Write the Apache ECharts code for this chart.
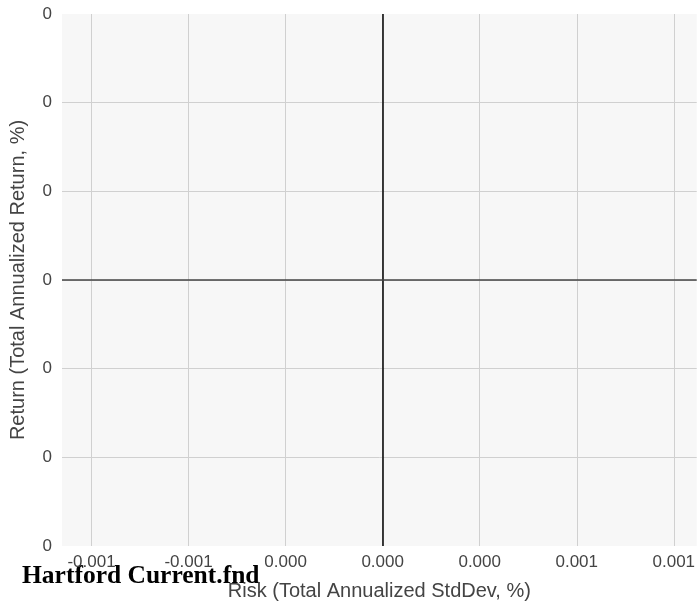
<!DOCTYPE html>
<html>
<head>
<meta charset="utf-8">
<script src="https://cdn.jsdelivr.net/npm/echarts@6/dist/echarts.min.js"></script>
<style>html,body{margin:0;padding:0;background:#fff}#c{width:698px;height:610px}</style>
</head>
<body>
<div id="c"></div>
<script>
// Axis ticks (abstract tick units; one unit between adjacent gridlines)
var xTickValues = [-3, -2, -1, 0, 1, 2, 3];
var xTickLabels = ['-0.001', '-0.001', '0.000', '0.000', '0.000', '0.001', '0.001'];
var yTickValues = [-3, -2, -1, 0, 1, 2, 3];
var yTickLabels = ['0', '0', '0', '0', '0', '0', '0'];
var xRange = [-3.304, 3.236];
var yRange = [-3, 3];
var fundName = 'Hartford Current.fnd';
var fundPoints = [];  // no visible points in the reference

function labelFor(values, labels, v) {
  for (var i = 0; i < values.length; i++) {
    if (Math.abs(values[i] - v) < 1e-6) return labels[i];
  }
  return '';
}

var chart = echarts.init(document.getElementById('c'), null, {renderer: 'canvas'});
chart.setOption({
  animation: false,
  backgroundColor: '#ffffff',
  grid: {left: 60, right: 0, top: 14, bottom: 64, show: true, backgroundColor: '#f7f7f7', borderWidth: 0},
  graphic: [{
    type: 'text', left: 22, top: 563,
    style: {text: fundName, font: 'bold 25.5px "Liberation Serif", "Times New Roman", serif', fill: '#000'}
  }],
  xAxis: {
    type: 'value', min: xRange[0], max: xRange[1], splitNumber: 6,
    name: 'Risk (Total Annualized StdDev, %)', nameLocation: 'middle', nameGap: 35,
    nameTextStyle: {fontFamily: 'Liberation Sans, Arial, sans-serif', fontSize: 20, color: '#444'},
    axisLine: {show: false}, axisTick: {show: false},
    axisLabel: {
      fontFamily: 'Liberation Sans, Arial, sans-serif', fontSize: 17, color: '#444', margin: 8,
      showMinLabel: false, showMaxLabel: false,
      formatter: function (v) { return labelFor(xTickValues, xTickLabels, v); }
    },
    splitLine: {show: true, showMinLine: false, showMaxLine: false, lineStyle: {color: '#d0d0d0', width: 1}}
  },
  yAxis: {
    type: 'value', min: yRange[0], max: yRange[1], interval: 1,
    name: 'Return (Total Annualized Return, %)', nameLocation: 'middle', nameGap: 34,
    nameTextStyle: {fontFamily: 'Liberation Sans, Arial, sans-serif', fontSize: 20, color: '#444'},
    axisLine: {show: false}, axisTick: {show: false},
    axisLabel: {
      fontFamily: 'Liberation Sans, Arial, sans-serif', fontSize: 17, color: '#444', margin: 10,
      formatter: function (v) { return labelFor(yTickValues, yTickLabels, v); }
    },
    splitLine: {show: true, showMinLine: false, showMaxLine: false, lineStyle: {color: '#d0d0d0', width: 1}}
  },
  series: [{
    name: fundName, type: 'scatter', data: fundPoints, silent: true,
    markLine: {
      silent: true, symbol: 'none', label: {show: false}, animation: false,
      data: [
        {xAxis: 0, lineStyle: {color: '#000', width: 1.5, type: 'solid'}},
        {yAxis: 0, lineStyle: {color: '#444', width: 1.5, type: 'solid'}}
      ]
    }
  }]
});
</script>
</body>
</html>
